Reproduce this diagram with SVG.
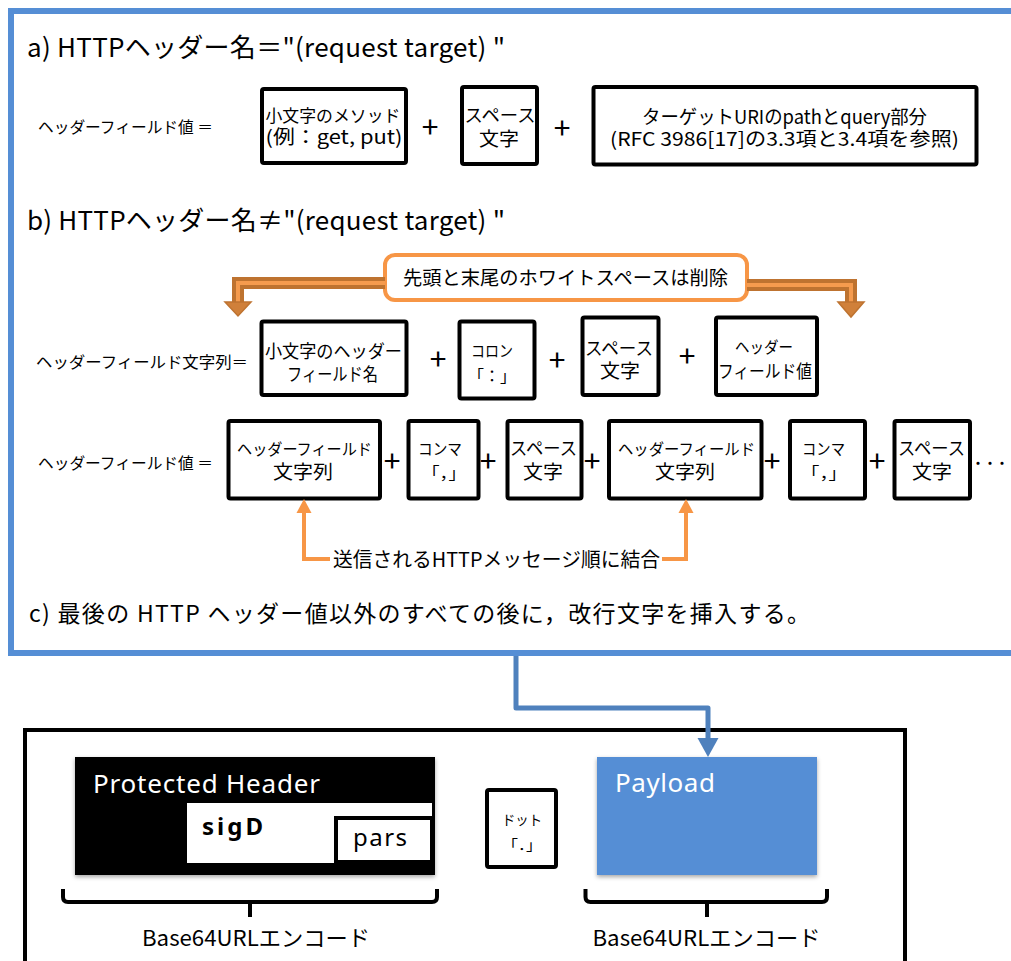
<svg xmlns="http://www.w3.org/2000/svg" width="1011" height="961" viewBox="0 0 1011 961">
<style>
.jp{font-family:"Noto Sans CJK JP","Noto Sans",sans-serif;fill:#000}
.la{font-family:"Noto Sans","Liberation Sans",sans-serif}
.box{fill:#fff;stroke:#000;stroke-width:4}
.plus{font-family:"Noto Sans CJK JP","Noto Sans",sans-serif;font-size:30px;text-anchor:middle;fill:#000}
.c{text-anchor:middle}
.f16{font-size:16px}
.f17{font-size:17px}
.f18{font-size:18px}
.f19{font-size:19px}
.thin{fill:none;stroke:#F79646;stroke-width:4}
.brace{fill:none;stroke:#000;stroke-width:4;stroke-linejoin:round}
</style>
<defs>
<filter id="sh" x="-5%" y="-5%" width="110%" height="120%">
<feDropShadow dx="0" dy="2" stdDeviation="2" flood-color="#000" flood-opacity="0.35"/>
</filter>
</defs>

<g id="frame-top">
<rect x="11" y="11" width="1030" height="642" fill="#fff" stroke="#558ED5" stroke-width="6"/>
</g>

<g id="title-a"><text class="jp" x="27" y="57" font-size="26" textLength="478">a) HTTPヘッダー名＝"(request target) "</text></g>
<g id="label-a"><text class="jp f16" x="38" y="133" textLength="175" lengthAdjust="spacingAndGlyphs">ヘッダーフィールド値 ＝</text></g>

<g id="a-method">
<rect class="box" x="262" y="89" width="144" height="74" rx="2"/>
<text class="jp c f17" x="333" y="122" textLength="135" lengthAdjust="spacingAndGlyphs">小文字のメソッド</text>
<text class="jp c f19" x="334" y="144" textLength="137" lengthAdjust="spacingAndGlyphs">(例：get, put)</text>
</g>
<g id="a-space">
<rect class="box" x="462" y="87" width="75" height="77" rx="2"/>
<text class="jp c f18" x="500" y="122" textLength="71" lengthAdjust="spacingAndGlyphs">スペース</text>
<text class="jp c f19" x="499" y="146" textLength="40" lengthAdjust="spacingAndGlyphs">文字</text>
</g>
<g id="a-uri">
<rect class="box" x="593.5" y="87" width="383" height="77.5" rx="2"/>
<text class="jp c f19" x="784.5" y="124" textLength="285" lengthAdjust="spacingAndGlyphs">ターゲットURIのpathとquery部分</text>
<text class="jp c f19" x="784.5" y="146" textLength="349" lengthAdjust="spacingAndGlyphs">(RFC 3986[17]の3.3項と3.4項を参照)</text>
</g>
<text class="plus" x="430" y="138">+</text>
<text class="plus" x="562" y="139">+</text>

<g id="title-b"><text class="jp" x="27" y="230" font-size="26" textLength="478">b) HTTPヘッダー名≠"(request target) "</text></g>

<g id="callout">
<rect x="385" y="255" width="362" height="45" rx="10" fill="#fff" stroke="#F79646" stroke-width="4"/>
<text class="jp c f19" x="565.5" y="285" textLength="325" lengthAdjust="spacingAndGlyphs">先頭と末尾のホワイトスペースは削除</text>
</g>

<g id="label-b1"><text class="jp f16" x="36" y="368" textLength="212" lengthAdjust="spacingAndGlyphs">ヘッダーフィールド文字列＝</text></g>
<g id="b-name">
<rect class="box" x="261.5" y="321.5" width="145" height="73.5" rx="2"/>
<text class="jp c f18" x="333.5" y="358" textLength="137" lengthAdjust="spacingAndGlyphs">小文字のヘッダー</text>
<text class="jp c f18" x="332.5" y="381" textLength="91" lengthAdjust="spacingAndGlyphs">フィールド名</text>
</g>
<g id="b-colon">
<rect class="box" x="459.5" y="321.5" width="75" height="77" rx="2"/>
<text class="jp c f16" x="492" y="357" textLength="42" lengthAdjust="spacingAndGlyphs">コロン</text>
<text class="jp c f16" x="492" y="382" textLength="48" lengthAdjust="spacingAndGlyphs">「：」</text>
</g>
<g id="b-space">
<rect class="box" x="582.5" y="317.5" width="76" height="77.5" rx="2"/>
<text class="jp c f18" x="619" y="355" textLength="68" lengthAdjust="spacingAndGlyphs">スペース</text>
<text class="jp c f19" x="620" y="378" textLength="40" lengthAdjust="spacingAndGlyphs">文字</text>
</g>
<g id="b-value">
<rect class="box" x="716" y="317.5" width="101" height="77.5" rx="2"/>
<text class="jp c f16" x="764" y="353" textLength="58" lengthAdjust="spacingAndGlyphs">ヘッダー</text>
<text class="jp c f18" x="765" y="378" textLength="94" lengthAdjust="spacingAndGlyphs">フィールド値</text>
</g>
<text class="plus" x="438" y="370">+</text>
<text class="plus" x="557" y="371">+</text>
<text class="plus" x="687" y="367">+</text>

<g id="label-b2"><text class="jp f16" x="38" y="469" textLength="175" lengthAdjust="spacingAndGlyphs">ヘッダーフィールド値 ＝</text></g>
<g id="r3-str1">
<rect class="box" x="228.5" y="421" width="151.5" height="77.5" rx="2"/>
<text class="jp c f16" x="304.5" y="455" textLength="135" lengthAdjust="spacingAndGlyphs">ヘッダーフィールド</text>
<text class="jp c f19" x="303" y="479" textLength="60" lengthAdjust="spacingAndGlyphs">文字列</text>
</g>
<g id="r3-comma1">
<rect class="box" x="408.5" y="421" width="70" height="77.5" rx="2"/>
<text class="jp c f16" x="440" y="455" textLength="44" lengthAdjust="spacingAndGlyphs">コンマ</text>
<text class="jp c f16" x="444" y="479" textLength="44" lengthAdjust="spacingAndGlyphs">「，」</text>
</g>
<g id="r3-space1">
<rect class="box" x="507.5" y="421" width="74" height="77.5" rx="2"/>
<text class="jp c f18" x="543.5" y="455" textLength="67" lengthAdjust="spacingAndGlyphs">スペース</text>
<text class="jp c f19" x="543" y="479" textLength="40" lengthAdjust="spacingAndGlyphs">文字</text>
</g>
<g id="r3-str2">
<rect class="box" x="609" y="421" width="152.5" height="77.5" rx="2"/>
<text class="jp c f16" x="686.5" y="455" textLength="137" lengthAdjust="spacingAndGlyphs">ヘッダーフィールド</text>
<text class="jp c f19" x="685" y="479" textLength="60" lengthAdjust="spacingAndGlyphs">文字列</text>
</g>
<g id="r3-comma2">
<rect class="box" x="790" y="421" width="75" height="77.5" rx="2"/>
<text class="jp c f16" x="823.5" y="455" textLength="43" lengthAdjust="spacingAndGlyphs">コンマ</text>
<text class="jp c f16" x="824" y="479" textLength="46" lengthAdjust="spacingAndGlyphs">「，」</text>
</g>
<g id="r3-space2">
<rect class="box" x="894.5" y="421" width="75.5" height="77.5" rx="2"/>
<text class="jp c f18" x="931.5" y="455" textLength="67" lengthAdjust="spacingAndGlyphs">スペース</text>
<text class="jp c f19" x="932" y="479" textLength="40" lengthAdjust="spacingAndGlyphs">文字</text>
</g>
<text class="plus" x="392" y="472">+</text>
<text class="plus" x="488" y="472">+</text>
<text class="plus" x="592" y="472">+</text>
<text class="plus" x="772" y="472">+</text>
<text class="plus" x="877" y="472">+</text>
<text class="jp" x="972" y="468" font-size="13" textLength="36" lengthAdjust="spacingAndGlyphs" font-weight="bold">・・・</text>

<g id="order-label"><text class="jp c" x="496.5" y="567" font-size="20" textLength="327" lengthAdjust="spacingAndGlyphs">送信されるHTTPメッセージ順に結合</text></g>

<g id="note-c"><text class="jp" x="29" y="622" font-size="23" textLength="781">c) 最後の HTTP ヘッダー値以外のすべての後に，改行文字を挿入する。</text></g>

<g id="frame-bottom">
<rect x="25" y="730" width="880" height="260" fill="none" stroke="#000" stroke-width="4"/>
</g>

<g id="protected-header">
<rect x="75" y="757" width="360" height="118" fill="#000" filter="url(#sh)"/>
<text class="la" x="93" y="793" font-size="26" fill="#fff" textLength="227">Protected Header</text>
<rect x="187" y="803" width="245" height="60" fill="#fff"/>
<text class="la" x="202" y="835" font-size="24" font-weight="bold" fill="#000" textLength="61">sigD</text>
<rect x="336" y="818" width="96" height="44" fill="#fff" stroke="#000" stroke-width="4"/>
<text class="la" x="353" y="846" font-size="24" fill="#000" textLength="54">pars</text>
</g>

<g id="dot">
<rect class="box" x="487" y="790" width="69" height="77" rx="2"/>
<text class="jp c" x="522" y="825" font-size="14" textLength="40" lengthAdjust="spacingAndGlyphs">ドット</text>
<text class="jp c" x="522" y="850" font-size="14" textLength="40" lengthAdjust="spacingAndGlyphs">「．」</text>
</g>

<g id="payload">
<rect x="597" y="757" width="220" height="118" fill="#558ED5" filter="url(#sh)"/>
<text class="la" x="615" y="792" font-size="26" fill="#fff" textLength="100">Payload</text>
</g>

<g id="braces">
<path class="brace" d="M63,889 V897 Q63,902 68,902 H432 Q437,902 437,897 V889 M250,902 V917"/>
<path class="brace" d="M585.5,889 V897 Q585.5,902 590.5,902 H822 Q827,902 827,897 V889 M707,902 V917"/>
<text class="jp c" x="256" y="946" font-size="22" textLength="228" lengthAdjust="spacingAndGlyphs">Base64URLエンコード</text>
<text class="jp c" x="706.5" y="946" font-size="22" textLength="228" lengthAdjust="spacingAndGlyphs">Base64URLエンコード</text>
</g>

<g id="connectors">
<path d="M385,283 H238 V303" fill="none" stroke="#BE7330" stroke-width="12"/>
<path d="M385,283 H238 V303" fill="none" stroke="#F59B4E" stroke-width="4"/>
<polygon points="225,302 251,302 238,316" fill="#D0803A" stroke="#BE7330" stroke-width="1.5"/>
<path d="M747,285 H851 V303" fill="none" stroke="#BE7330" stroke-width="12"/>
<path d="M747,285 H851 V303" fill="none" stroke="#F59B4E" stroke-width="4"/>
<polygon points="838,302 864,302 851,317" fill="#D0803A" stroke="#BE7330" stroke-width="1.5"/>
<path class="thin" d="M330,559 H304 V512"/>
<polygon points="296.5,513 311.5,513 304,499" fill="#F79646"/>
<path class="thin" d="M662,559 H686 V512"/>
<polygon points="678.5,513 693.5,513 686,499" fill="#F79646"/>
<path d="M516,656 V708 H708 V740" fill="none" stroke="#4F81BD" stroke-width="5" stroke-linejoin="round"/>
<polygon points="697.5,738 718.5,738 708,757" fill="#4F81BD"/>
</g>
</svg>
